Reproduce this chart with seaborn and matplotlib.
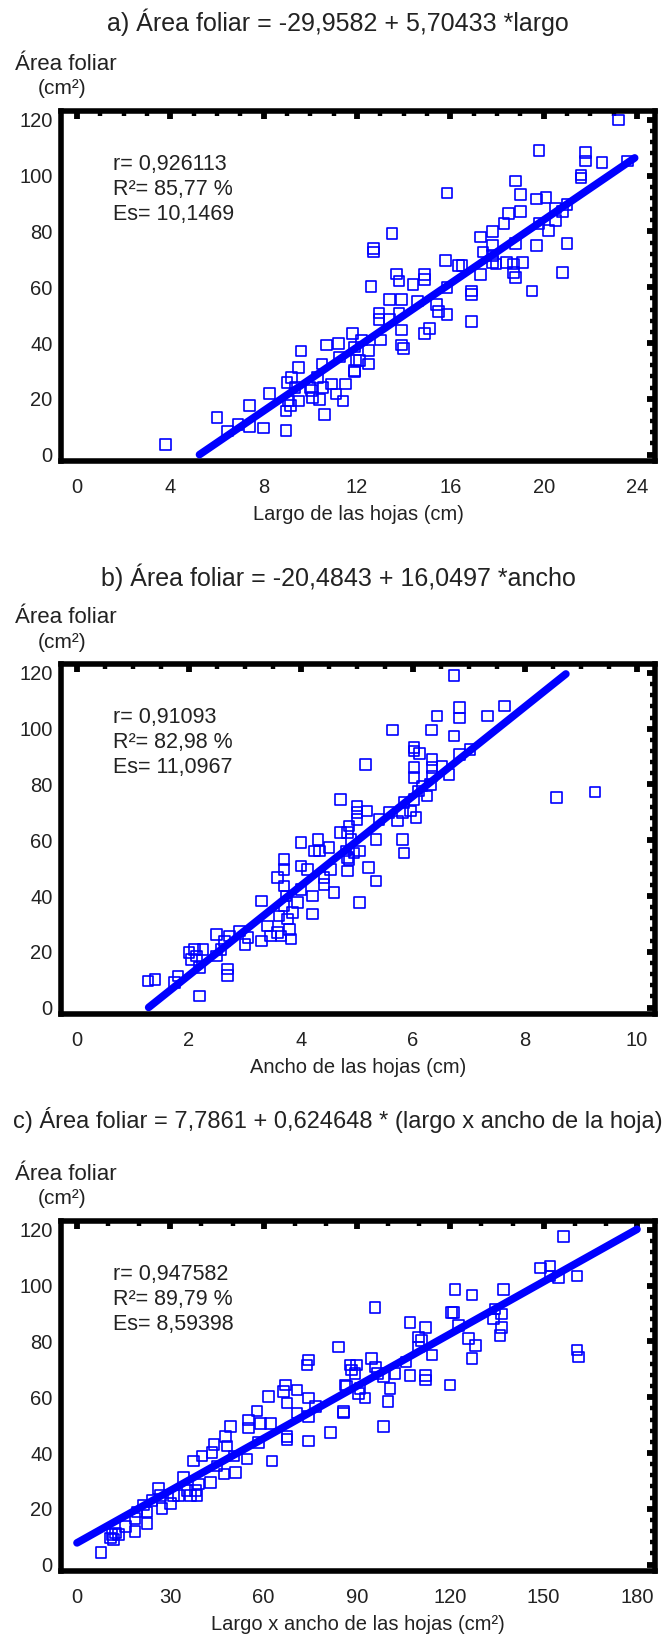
import numpy as np
import pandas as pd
import matplotlib
matplotlib.use('Agg')
import matplotlib.pyplot as plt
import seaborn as sns
from matplotlib.ticker import MultipleLocator

# a) leaf length (cm) vs leaf area (cm2)
largo_x = [3.8, 6.0, 6.45, 6.9, 7.4, 7.4, 8.0, 8.25, 8.95, 8.95, 9.0, 9.07, 9.15, 9.2, 9.35, 9.5, 9.5, 9.6,
           9.98, 10.05, 10.1, 10.3, 10.4, 10.5, 10.55, 10.6, 10.7, 10.9, 11.1, 11.2, 11.25, 11.4, 11.5, 11.8,
           11.9, 11.95,
           23.2, 19.8, 21.8, 21.8, 22.5, 23.6, 21.6, 21.6, 18.8, 15.85, 19.0, 19.7, 20.1, 18.5, 19.0, 20.5,
           21.0, 20.8, 19.8, 20.2, 20.5, 18.3, 17.8, 13.5, 17.3, 18.8, 19.7, 21.0, 12.7, 12.7, 17.8, 17.4,
           17.8, 15.8, 16.35, 16.5, 17.8, 17.95, 18.4, 18.7, 19.1, 18.7, 18.8, 20.8, 17.3, 13.7, 13.8, 14.9,
           14.9, 14.4, 12.6, 15.85, 16.9, 16.9, 19.5, 13.4, 13.9, 14.6, 15.4, 12.95, 13.8, 15.5, 15.85, 12.95,
           13.4, 16.9, 15.1, 14.9, 13.9, 12.2, 13.0, 13.9, 14.0, 12.5, 11.9, 12.5, 12.1, 11.9]
largo_y = [3.7, 13.2, 8.4, 10.8, 17.5, 10.1, 9.6, 21.9, 8.7, 15.6, 25.9, 19.2, 17.5, 27.7, 24.1, 19.2, 31.3, 37.2,
           24.1, 22.9, 20.5, 27.7, 19.8, 32.5, 24.1, 14.4, 39.3, 25.3, 21.7, 39.9, 35.0, 19.2, 25.3, 43.5,
           29.6, 33.8,
           119.9, 109.0, 108.4, 105.3, 104.7, 105.3, 100.2, 99.2, 98.1, 93.8, 93.2, 91.7, 92.2, 86.5, 87.1, 88.4,
           89.6, 87.1, 82.9, 80.4, 84.0, 82.9, 79.9, 79.3, 78.0, 75.6, 75.0, 75.6, 73.8, 72.6, 75.0, 72.6,
           71.4, 69.5, 67.7, 67.7, 68.9, 68.3, 68.9, 68.3, 68.9, 65.2, 63.4, 65.2, 64.6, 64.7, 62.3, 64.6,
           62.8, 60.9, 60.2, 59.9, 58.7, 57.4, 58.7, 55.6, 55.6, 55.0, 53.8, 50.8, 50.8, 51.4, 50.2, 48.4,
           48.4, 47.8, 45.3, 43.5, 44.7, 41.1, 41.1, 39.3, 38.1, 37.4, 38.6, 32.5, 33.8, 30.2]

# b) leaf width (cm) vs leaf area (cm2)
ancho_x = [1.27, 1.39, 1.74, 1.8, 2.0, 2.04, 2.1, 2.13, 2.19, 2.19, 2.25, 2.49, 2.49, 2.57, 2.63, 2.69, 2.69,
           2.72, 2.9, 3.0, 3.05, 3.29, 3.29, 3.4, 3.46, 3.58, 3.58, 3.61, 3.64, 3.7, 3.7, 3.7, 3.7, 3.73, 3.76,
           3.79, 3.82, 3.85, 3.94, 4.0, 4.0, 4.0, 4.12, 4.21, 4.21, 4.24, 4.3, 4.33, 4.41, 4.41, 4.5, 4.53,
           4.59, 4.71, 4.71, 4.8, 4.83, 4.83, 4.86, 4.89, 5.0, 5.0, 5.0, 5.04, 5.04, 5.15,
           6.73, 6.83, 6.83, 6.43, 7.33, 7.63, 5.63, 6.33, 6.73, 6.02, 6.02, 6.12, 7.02, 6.83, 6.02, 6.34,
           6.34, 6.52, 6.64, 6.02, 6.34, 6.16, 6.1, 6.31, 6.25, 5.84, 6.02, 5.96, 6.05, 5.81, 5.72, 5.57,
           5.39, 5.18, 5.81, 5.84, 5.34, 5.21, 5.34, 4.83, 4.95, 4.86, 8.56, 9.25]
ancho_y = [9.5, 10.1, 9.0, 11.4, 19.7, 17.3, 20.9, 18.5, 14.3, 4.2, 20.9, 26.3, 18.5, 20.9, 23.9, 13.9, 11.5,
           25.7, 27.5, 22.7, 25.1, 23.9, 38.2, 29.3, 25.7, 26.9, 46.6, 32.9, 25.7, 53.2, 49.6, 43.6, 36.4, 40.0,
           31.7, 28.1, 24.6, 34.1, 37.7, 59.1, 42.4, 50.8, 49.6, 40.0, 33.5, 56.1, 60.3, 56.1, 46.6, 44.2, 57.3,
           49.6, 41.2, 74.7, 62.7, 56.1, 49.0, 53.8, 65.1, 60.3, 72.3, 69.9, 67.5, 56.1, 37.7, 87.2,
           119.1, 107.5, 103.9, 104.5, 104.5, 108.1, 99.5, 99.5, 97.4, 93.2, 92.0, 91.2, 92.6, 90.8, 86.0, 89.0,
           86.0, 86.5, 83.6, 82.4, 83.0, 79.4, 77.6, 80.0, 75.9, 73.5, 74.7, 70.5, 68.1, 69.9, 66.9, 69.9,
           67.5, 70.5, 60.3, 55.5, 60.3, 50.2, 45.4, 62.7, 55.5, 53.1, 75.3, 77.3]

# c) length x width (cm2) vs leaf area (cm2)
lxa_x = [7.7, 10.7, 11.2, 12.3, 11.7, 13.4, 15.5, 18.7, 18.7, 19.3, 21.4, 22.5, 22.5, 24.1, 26.2, 26.8, 27.3,
         30.0, 31.1, 32.7, 34.3, 35.3, 36.4, 37.4, 38.0, 38.6, 39.1, 40.2, 42.9, 43.4, 44.0, 45.0, 47.2, 47.7,
         48.2, 49.3, 50.4, 50.9, 54.6, 55.2, 55.2, 57.9, 58.4, 59.0, 61.6, 62.2, 62.7, 66.4, 67.0, 67.5, 67.5,
         67.5, 70.7, 70.7, 74.4, 74.4, 74.4, 73.9, 74.4, 76.6, 81.4, 84.0, 85.6, 86.7, 87.7, 88.3, 89.3, 90.4,
         156.4, 148.9, 152.1, 152.1, 154.8, 160.7, 160.7, 161.2, 121.5, 126.9, 137.1, 95.8, 120.4, 121.0,
         134.4, 133.9, 136.5, 122.6, 107.1, 112.0, 136.5, 136.0, 125.8, 128.0, 126.9, 109.7, 110.8, 109.7,
         114.1, 105.8, 94.6, 89.8, 95.9, 96.5, 107.1, 112.0, 112.0, 102.2, 98.5, 86.2, 91.0, 100.6, 92.6,
         99.9, 119.9, 85.6, 98.5]
lxa_y = [4.4, 9.5, 10.7, 11.3, 9.0, 10.7, 13.6, 11.8, 16.5, 18.9, 21.3, 14.8, 18.9, 23.0, 27.2, 24.8, 20.1,
         21.9, 24.8, 24.8, 31.3, 26.6, 24.8, 37.2, 26.6, 24.8, 28.9, 39.0, 29.5, 40.2, 43.1, 35.4, 32.5, 46.0,
         42.5, 49.5, 39.0, 33.1, 37.8, 51.8, 48.9, 55.0, 43.7, 50.6, 60.3, 50.6, 37.2, 62.1, 64.4, 57.9, 44.9,
         46.0, 62.6, 54.4, 59.7, 53.2, 73.3, 71.5, 44.3, 56.7, 47.3, 78.0, 54.4, 63.8, 71.5, 69.7, 68.5, 61.4,
         117.6, 106.4, 107.0, 103.5, 102.9, 103.5, 76.9, 74.5, 98.7, 96.7, 98.7, 92.2, 90.4, 90.4,
         91.6, 88.1, 89.8, 85.7, 86.9, 85.1, 85.1, 82.1, 81.0, 78.6, 73.9, 81.6, 80.4, 78.0,
         75.1, 72.7, 73.9, 71.5, 70.9, 68.5, 67.9, 67.9, 66.2, 68.5, 67.3, 64.4, 63.2, 63.2, 59.7,
         58.5, 64.4, 54.9, 49.6]

# fitted models: intercept, slope, x range of the drawn line
fit_a = (-29.9582, 5.70433, [5.25, 23.9])
fit_b = (-20.4843, 16.0497, [1.28, 8.73])
fit_c = (7.7861, 0.624648, [0.0, 180.0])

titles = ['a) Área foliar = -29,9582 + 5,70433 *largo',
          'b) Área foliar = -20,4843 + 16,0497 *ancho',
          'c) Área foliar = 7,7861 + 0,624648 * (largo x ancho de la hoja)']
stats = [['r= 0,926113', 'R²= 85,77 %', 'Es= 10,1469'],
         ['r= 0,91093', 'R²= 82,98 %', 'Es= 11,0967'],
         ['r= 0,947582', 'R²= 89,79 %', 'Es= 8,59398']]
xlabels = ['Largo de las hojas (cm)', 'Ancho de las hojas (cm)', 'Largo x ancho de las hojas (cm²)']
xmax = [24, 10, 180]
xmajor = [4, 2, 30]
xminor = [1, 0.5, 10]

sns.set_style('white')
plt.rcParams['font.family'] = ['Liberation Sans', 'DejaVu Sans']
txt = '#222222'
blue = '#0000ff'

W, H = 670, 1641
fig = plt.figure(figsize=(W / 100, H / 100), dpi=100)

tops = [111, 664, 1221]       # axes top in pixels
title_y = [22, 577, 1120]
datasets = [(largo_x, largo_y, fit_a), (ancho_x, ancho_y, fit_b), (lxa_x, lxa_y, fit_c)]

for i, (xs, ys, fit) in enumerate(datasets):
    top = tops[i]
    ax = fig.add_axes([61 / W, (H - top - 350) / H, 594 / W, 350 / H])
    df = pd.DataFrame({'x': xs, 'y': ys})
    sns.scatterplot(data=df, x='x', y='y', marker='s', s=58, fc='none', ec=blue,
                    linewidth=1.2, ax=ax, zorder=3)
    b0, b1, xr = fit
    line = pd.DataFrame({'x': xr, 'y': [b0 + b1 * v for v in xr]})
    sns.lineplot(data=line, x='x', y='y', color=blue, linewidth=5.5, ax=ax,
                 solid_capstyle='round', zorder=4)

    m = xmax[i]
    ax.set_xlim(-16 * m / 560, m * (1 + 18 / 560))
    ax.set_ylim(-2.3, 123.2)
    ax.xaxis.set_major_locator(MultipleLocator(xmajor[i]))
    ax.xaxis.set_minor_locator(MultipleLocator(xminor[i]))
    ax.yaxis.set_major_locator(MultipleLocator(20))
    ax.yaxis.set_minor_locator(MultipleLocator(4))
    ax.tick_params(which='both', direction='in', top=True, right=True, color='black')
    ax.tick_params(which='major', length=5.5, width=4.2, labelsize=14.5, labelcolor=txt)
    ax.tick_params(which='minor', length=3.8, width=3.2)
    ax.tick_params(axis='x', which='major', pad=12)
    ax.tick_params(axis='y', which='major', pad=6)
    for sp in ax.spines.values():
        sp.set_linewidth(4)
        sp.set_color('black')
    ax.set_xlabel(xlabels[i], fontsize=14.5, color=txt, labelpad=6)
    ax.set_ylabel('')

    for k, s in enumerate(stats[i]):
        ax.text(0.087, 0.846 - k * 0.071, s, transform=ax.transAxes, fontsize=15.5,
                color=txt, va='center', ha='left')

    fs = 17 if i == 2 else 18
    fig.text(338 / W, 1 - title_y[i] / H, titles[i], ha='center', va='center', fontsize=fs, color=txt)
    fig.text(15 / W, 1 - (top - 47) / H, 'Área foliar', ha='left', va='center', fontsize=16, color=txt)
    fig.text(62 / W, 1 - (top - 22) / H, '(cm²)', ha='center', va='center', fontsize=15, color=txt)

fig.savefig('out.png', dpi=100)
